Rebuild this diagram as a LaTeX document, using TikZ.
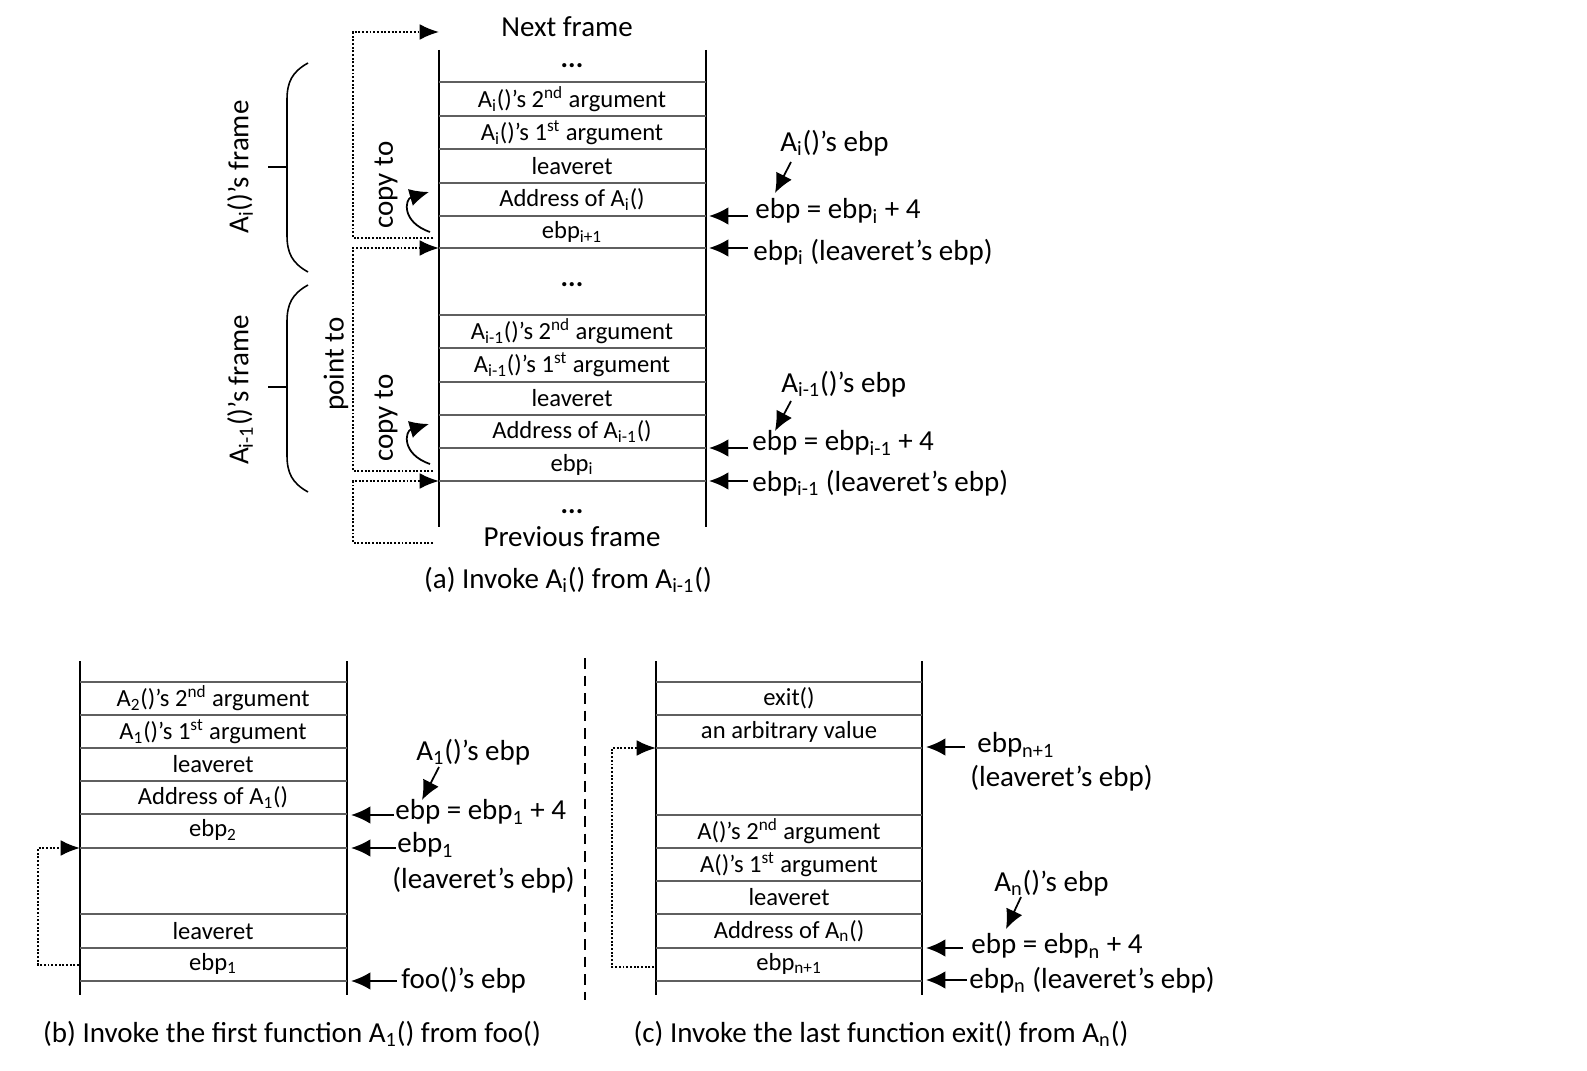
\documentclass[tikz,border=0pt]{standalone}
\usepackage{fontspec}
\setmainfont{Carlito}
\usepackage{tikz}
\usetikzlibrary{arrows.meta}
\definecolor{sgray}  {RGB}{95,95,95}
\tikzset{
    wall/.style={draw=black, line width=1.1pt},
    slot/.style={draw=sgray, line width=0.7pt},
    cell/.style={font=\fontsize{14}{16}\selectfont, inner sep=0pt},
    dots/.style={font=\fontsize{16}{18}\selectfont\bfseries, inner sep=0pt, text height=3pt, text depth=0pt},
    tag/.style={font=\fontsize{16.5}{19}\selectfont, inner sep=0pt},
    pointer/.style={draw=black, line width=1.2pt, -{Latex[length=11pt,width=10pt]}},
    hint/.style={draw=black, line width=1pt, -{Latex[length=11pt,width=10pt]}},
    link/.style={draw=black, line width=1.1pt, densely dotted, -{Latex[length=11pt,width=9pt]}},
    brace/.style={draw=black, line width=0.9pt},
    sep/.style={draw=black, line width=0.8pt, dash pattern=on 6pt off 4pt}
  }

\begin{document}
\begin{tikzpicture}[x=0.02cm, y=-0.02cm]
 \useasboundingbox (0,0) rectangle (1587,1071);
 %% (a) stack
     \draw[wall] (439,50) -- (439,527);
     \draw[wall] (706,50) -- (706,527);
     \foreach \y in {82,116,149,183,216,248,315,348,382,415,448,481}
       \draw[slot] (439,\y) -- (706,\y);
     \node[tag] (nextf) at (567,27) {Next frame};
     \node[dots] (dtop) at (572,65) {...};
     \node[cell] (argi2) at (572,99) {A\textsubscript{i}()'s 2\textsuperscript{nd} argument};
     \node[cell] (argi1) at (572,132.5) {A\textsubscript{i}()'s 1\textsuperscript{st} argument};
     \node[cell] (lri) at (572,166) {leaveret};
     \node[cell] (addri) at (572,199.5) {Address of A\textsubscript{i}()};
     \node[cell] (ebpin) at (572,232) {ebp\textsubscript{i+1}};
     \node[dots] (dmid) at (572,284) {...};
     \node[cell] (argj2) at (572,331.5) {A\textsubscript{i-1}()'s 2\textsuperscript{nd} argument};
     \node[cell] (argj1) at (572,365) {A\textsubscript{i-1}()'s 1\textsuperscript{st} argument};
     \node[cell] (lrj) at (572,398.5) {leaveret};
     \node[cell] (addrj) at (572,431.5) {Address of A\textsubscript{i-1}()};
     \node[cell] (ebpi) at (572,464.5) {ebp\textsubscript{i}};
     \node[dots] (dbot) at (572,511) {...};
     \node[tag] (prevf) at (572,537) {Previous frame};
 %% braces
     \draw[brace] (308,63) .. controls (292,72) and (287,82) .. (287,100) -- (287,235) .. controls (287,253) and (292,263) .. (308,272);
     \draw[brace] (287,167) -- (268,167);
     \draw[brace] (308,285) .. controls (292,294) and (287,304) .. (287,322) -- (287,455) .. controls (287,473) and (292,483) .. (308,492);
     \draw[brace] (287,387) -- (268,387);
     \node[tag, rotate=90] (fri) at (240,167) {A\textsubscript{i}()'s frame};
     \node[tag, rotate=90] (frj) at (240,390) {A\textsubscript{i-1}()'s frame};
     \node[tag, rotate=90] (pto) at (336,364) {point to};
     \node[tag, rotate=90] (cpi) at (386,185) {copy to};
     \node[tag, rotate=90] (cpj) at (386,418) {copy to};
 %% dotted links
     \draw[link] (433,238) -- (353,238) -- (353,32) -- (439,32);
     \draw[link] (433,471) -- (353,471) -- (353,248) -- (439,248);
     \draw[link] (433,543) -- (353,543) -- (353,481) -- (439,481);
 %% copy arrows
     \draw[hint] (430,232) .. controls (401,222) and (405,199) .. (429,192);
     \draw[hint] (430,464) .. controls (401,454) and (405,431) .. (429,424);
 %% right side of (a)
     \node[tag, anchor=west] (ebpAi) at (780,143) {A\textsubscript{i}()'s ebp};
     \node[tag, anchor=west] (eqi) at (755,211) {ebp = ebp\textsubscript{i} + 4};
     \node[tag, anchor=west] (lvi) at (753,252) {ebp\textsubscript{i} (leaveret's ebp)};
     \coordinate (hi1) at (791,162);  \coordinate (ti1) at (775,193);
     \coordinate (ai1) at (748,216);  \coordinate (wi1) at (709,216);
     \coordinate (ai2) at (748,248);  \coordinate (wi2) at (709,248);
     \draw[hint] (hi1) -- (ti1);
     \draw[pointer] (ai1) -- (wi1);
     \draw[pointer] (ai2) -- (wi2);
     \node[tag, anchor=west] (ebpAj) at (781,384) {A\textsubscript{i-1}()'s ebp};
     \node[tag, anchor=west] (eqj) at (752,443) {ebp = ebp\textsubscript{i-1} + 4};
     \node[tag, anchor=west] (lvj) at (752,483) {ebp\textsubscript{i-1} (leaveret's ebp)};
     \coordinate (hj1) at (791,401);  \coordinate (tj1) at (775,431);
     \coordinate (aj1) at (748,448);  \coordinate (wj1) at (709,448);
     \coordinate (aj2) at (748,481);  \coordinate (wj2) at (709,481);
     \draw[hint] (hj1) -- (tj1);
     \draw[pointer] (aj1) -- (wj1);
     \draw[pointer] (aj2) -- (wj2);
     \node[tag] (capa) at (568,580) {(a) Invoke A\textsubscript{i}() from A\textsubscript{i-1}()};

 %% (b) stack
     \draw[wall] (80,661) -- (80,995);
     \draw[wall] (347,661) -- (347,995);
     \foreach \y in {682,715,748,781,814,848,914,948,981}
       \draw[slot] (80,\y) -- (347,\y);
     \node[cell] (barg2) at (213,698.5) {A\textsubscript{2}()'s 2\textsuperscript{nd} argument};
     \node[cell] (barg1) at (213,731.5) {A\textsubscript{1}()'s 1\textsuperscript{st} argument};
     \node[cell] (blr) at (213,764.5) {leaveret};
     \node[cell] (baddr) at (213,797.5) {Address of A\textsubscript{1}()};
     \node[cell] (bebp2) at (213,830) {ebp\textsubscript{2}};
     \node[cell] (blr2) at (213,931) {leaveret};
     \node[cell] (bebp1) at (213,963.5) {ebp\textsubscript{1}};
     \draw[link] (79,965) -- (38,965) -- (38,848) -- (80,848);
     \node[tag, anchor=west] (ebpA1) at (416,752) {A\textsubscript{1}()'s ebp};
     \node[tag, anchor=west] (eqb) at (395,812) {ebp = ebp\textsubscript{1} + 4};
     \node[tag, anchor=west] (lvb) at (397,845) {ebp\textsubscript{1}};
     \node[tag, anchor=west] (lvb2) at (392,880) {(leaveret's ebp)};
     \node[tag, anchor=west] (foob) at (401,980) {foo()'s ebp};
     \coordinate (hb1) at (439,767);  \coordinate (tb1) at (422,800);
     \coordinate (ab1) at (394,815);  \coordinate (wb1) at (351,815);
     \coordinate (ab2) at (396,848);  \coordinate (wb2) at (351,848);
     \coordinate (ab3) at (397,981);  \coordinate (wb3) at (351,981);
     \draw[hint] (hb1) -- (tb1);
     \draw[pointer] (ab1) -- (wb1);
     \draw[pointer] (ab2) -- (wb2);
     \draw[pointer] (ab3) -- (wb3);
     \node[tag] (capb) at (292,1034) {(b) Invoke the first function A\textsubscript{1}() from foo()};

 %% separator
     \draw[sep] (585,658) -- (585,1000);

 %% (c) stack
     \draw[wall] (656,661) -- (656,995);
     \draw[wall] (922,661) -- (922,995);
     \foreach \y in {682,715,748,815,848,881,914,948,981}
       \draw[slot] (656,\y) -- (922,\y);
     \node[cell] (cexit) at (789,698.5) {exit()};
     \node[cell] (carb) at (789,731.5) {an arbitrary value};
     \node[cell] (carg2) at (789,831.5) {A()'s 2\textsuperscript{nd} argument};
     \node[cell] (carg1) at (789,864.5) {A()'s 1\textsuperscript{st} argument};
     \node[cell] (clr) at (789,897.5) {leaveret};
     \node[cell] (caddr) at (789,931) {Address of A\textsubscript{n}()};
     \node[cell] (cebp) at (789,963.5) {ebp\textsubscript{n+1}};
     \draw[link] (654,967) -- (612,967) -- (612,748) -- (656,748);
     \node[tag, anchor=west] (lvc) at (977,745) {ebp\textsubscript{n+1}};
     \node[tag, anchor=west] (lvc2) at (970,778) {(leaveret's ebp)};
     \node[tag, anchor=west] (ebpAn) at (994,883) {A\textsubscript{n}()'s ebp};
     \node[tag, anchor=west] (eqc) at (971,946) {ebp = ebp\textsubscript{n} + 4};
     \node[tag, anchor=west] (lvn) at (969,980) {ebp\textsubscript{n} (leaveret's ebp)};
     \coordinate (ac1) at (965,747);  \coordinate (wc1) at (926,747);
     \coordinate (hc1) at (1021,897); \coordinate (tc1) at (1006,929);
     \coordinate (ac2) at (963,948);  \coordinate (wc2) at (926,948);
     \coordinate (ac3) at (967,980);  \coordinate (wc3) at (926,980);
     \draw[pointer] (ac1) -- (wc1);
     \draw[hint] (hc1) -- (tc1);
     \draw[pointer] (ac2) -- (wc2);
     \draw[pointer] (ac3) -- (wc3);
     \node[tag] (capc) at (881,1034) {(c) Invoke the last function exit() from A\textsubscript{n}()};
 \end{tikzpicture}
\end{document}
